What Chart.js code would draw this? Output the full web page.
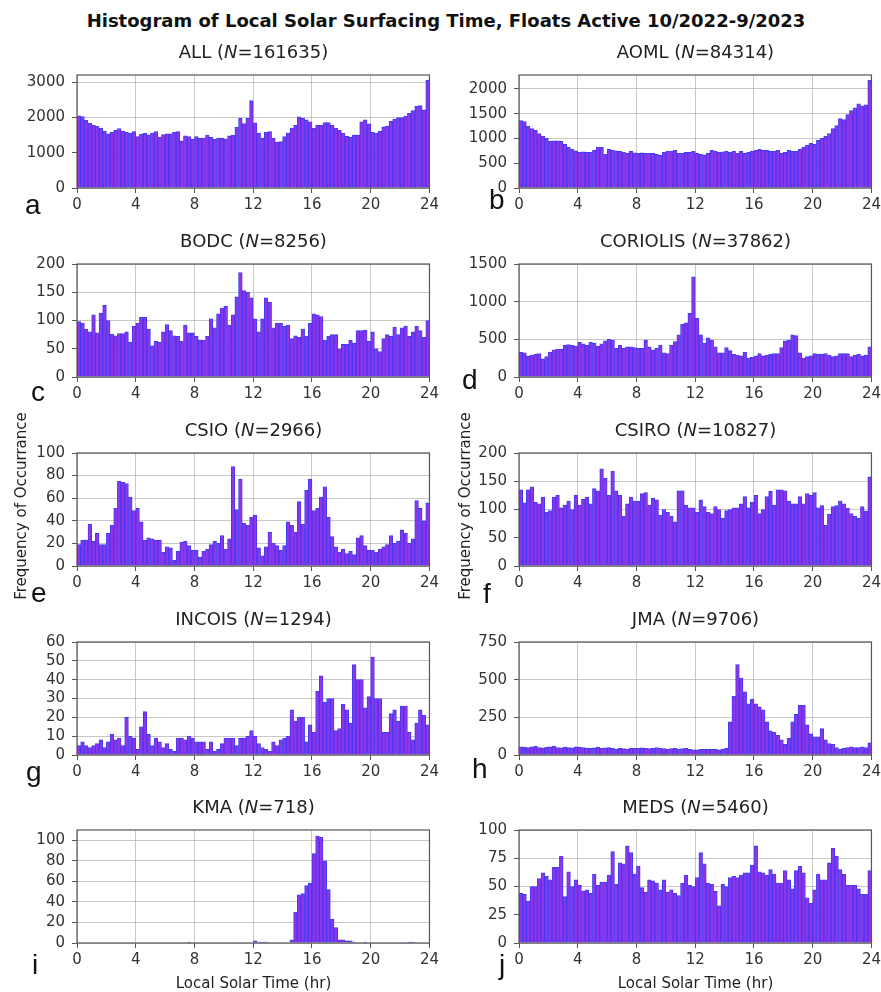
<!DOCTYPE html>
<html>
<head>
<meta charset="utf-8">
<title>Histogram of Local Solar Surfacing Time</title>
<script src="https://cdn.jsdelivr.net/npm/chart.js@4.4.1/dist/chart.umd.min.js"></script>
<style>
  html, body { margin: 0; padding: 0; background: #fff; }
  #page { position: relative; width: 881px; height: 992px; overflow: hidden; font-family: 'DejaVu Sans', sans-serif; color: #222; }
  .panel { position: absolute; }
  .txt { position: absolute; white-space: nowrap; line-height: 1; }
</style>
</head>
<body>
<div id="page"></div>
<script>
// 96 bins of 15 minutes over the local solar day
const BIN_WIDTH = 0.25;
const binCenters = Array.from({ length: 96 }, (_, i) => (i + 0.5) * BIN_WIDTH);
const xTicks = [0, 4, 8, 12, 16, 20, 24];

const allCounts = [
  2050, 2030, 1920, 1840, 1790, 1750, 1700, 1620,
  1540, 1580, 1640, 1690, 1620, 1580, 1560, 1600,
  1460, 1530, 1550, 1510, 1560, 1600, 1450, 1520,
  1540, 1540, 1580, 1600, 1340, 1480, 1460, 1380,
  1460, 1420, 1420, 1500, 1440, 1380, 1420, 1420,
  1400, 1480, 1500, 1720, 1980, 1830, 1980, 2480,
  1850, 1560, 1420, 1580, 1600, 1420, 1300, 1320,
  1460, 1560, 1700, 1780, 2020, 1980, 1940, 1880,
  1700, 1780, 1780, 1860, 1860, 1780, 1700, 1640,
  1560, 1470, 1440, 1500, 1500, 1880, 1940, 1820,
  1580, 1560, 1620, 1740, 1760, 1900, 1960, 2000,
  2000, 2040, 2120, 2200, 2320, 2340, 2220, 3060,
];
const aomlCounts = [
  1360, 1340, 1250, 1200, 1170, 1100, 1050, 1000,
  940, 950, 950, 940, 880, 820, 780, 750,
  720, 730, 720, 720, 760, 820, 820, 680,
  780, 760, 750, 740, 720, 700, 740, 710,
  700, 710, 700, 700, 700, 680, 660, 720,
  740, 740, 760, 700, 700, 720, 720, 740,
  700, 680, 670, 700, 760, 740, 720, 730,
  740, 720, 740, 700, 740, 700, 720, 740,
  760, 780, 760, 760, 740, 740, 760, 700,
  720, 760, 740, 740, 780, 820, 860, 900,
  880, 960, 1000, 1050, 1100, 1200, 1260, 1400,
  1380, 1480, 1560, 1620, 1700, 1660, 1680, 2170,
];
const bodcCounts = [
  98, 95, 85, 80, 110, 78, 113, 127,
  100, 76, 73, 77, 77, 80, 62, 90,
  95, 106, 106, 85, 55, 63, 62, 80,
  93, 82, 73, 72, 63, 92, 78, 78,
  72, 66, 65, 72, 103, 87, 112, 122,
  125, 92, 110, 142, 185, 153, 150, 140,
  103, 80, 103, 140, 132, 87, 95, 95,
  90, 92, 68, 73, 70, 85, 72, 95,
  112, 110, 107, 65, 72, 75, 75, 50,
  58, 58, 65, 60, 82, 82, 83, 63,
  80, 50, 45, 68, 75, 72, 88, 75,
  87, 90, 72, 80, 90, 82, 70, 100,
];
const coriolisCounts = [
  330, 320, 280, 290, 300, 310, 240, 270,
  330, 360, 370, 370, 420, 430, 420, 410,
  460, 440, 420, 460, 450, 410, 440, 480,
  500, 490, 380, 420, 380, 400, 400, 390,
  380, 380, 490, 400, 360, 380, 420, 320,
  310, 420, 470, 560, 700, 720, 850, 1330,
  780, 560, 450, 520, 490, 400, 320, 320,
  390, 350, 300, 290, 280, 330, 250, 260,
  280, 310, 280, 290, 300, 310, 310, 390,
  480, 490, 560, 550, 320, 250, 270, 280,
  310, 300, 300, 310, 290, 270, 280, 310,
  310, 310, 270, 290, 300, 280, 290, 400,
];
const csioCounts = [
  19, 23, 23, 37, 22, 29, 19, 19,
  29, 36, 51, 75, 74, 73, 61, 49,
  51, 39, 23, 25, 24, 23, 23, 12,
  17, 16, 5, 13, 21, 22, 18, 14,
  14, 8, 13, 15, 19, 22, 20, 27,
  15, 24, 88, 50, 77, 38, 36, 43,
  45, 16, 9, 17, 30, 20, 18, 14,
  18, 39, 36, 30, 57, 37, 67, 77,
  49, 51, 61, 70, 43, 26, 17, 12,
  15, 11, 13, 10, 25, 27, 18, 14,
  14, 12, 15, 17, 19, 27, 20, 22,
  32, 29, 20, 24, 58, 51, 40, 56,
];
const csiroCounts = [
  135, 112, 135, 140, 113, 110, 122, 95,
  98, 122, 125, 103, 108, 115, 100, 125,
  108, 118, 122, 110, 137, 133, 172, 155,
  125, 168, 133, 125, 88, 110, 122, 115,
  115, 128, 130, 108, 120, 117, 90, 100,
  95, 88, 78, 133, 133, 108, 103, 103,
  95, 117, 105, 95, 93, 105, 100, 85,
  98, 100, 103, 103, 110, 123, 103, 113,
  125, 93, 100, 123, 132, 108, 135, 135,
  133, 115, 110, 110, 123, 110, 128, 125,
  130, 103, 107, 72, 92, 105, 107, 115,
  110, 102, 93, 88, 85, 105, 97, 158,
];
const incoisCounts = [
  5, 7, 5, 4, 5, 6, 8, 4,
  7, 11, 8, 9, 5, 20, 10, 9,
  3, 15, 23, 11, 5, 9, 7, 4,
  6, 3, 2, 9, 9, 8, 10, 9,
  7, 7, 7, 3, 7, 2, 3, 6,
  9, 9, 9, 5, 9, 9, 10, 13,
  10, 6, 4, 3, 2, 7, 5, 8,
  9, 10, 24, 18, 20, 20, 7, 16,
  12, 34, 42, 28, 30, 30, 13, 14,
  27, 24, 17, 48, 40, 40, 25, 31,
  52, 30, 30, 12, 12, 22, 24, 18,
  26, 26, 12, 8, 17, 24, 21, 16,
];
const jmaCounts = [
  55, 52, 50, 55, 58, 50, 48, 52,
  55, 60, 50, 48, 52, 50, 48, 55,
  52, 50, 46, 45, 48, 52, 45, 48,
  50, 45, 40, 45, 42, 40, 46, 44,
  45, 48, 45, 42, 44, 50, 45, 42,
  40, 42, 45, 40, 42, 45, 38, 35,
  35, 38, 40, 38, 38, 40, 35, 40,
  45, 220, 390, 600, 510, 420, 340, 370,
  340, 320, 300, 220, 160, 150, 130, 100,
  70, 110, 220, 270, 330, 330, 200, 140,
  120, 120, 175, 100, 75, 70, 50, 40,
  45, 50, 55, 50, 50, 55, 50, 80,
];
const kmaCounts = [
  0, 0, 0, 0, 0, 0, 0, 0,
  0, 0, 0, 0, 0, 0, 0, 0,
  0, 0, 0, 0, 0, 0, 0, 0,
  0, 0, 0, 0, 0, 0, 1, 0,
  0, 0, 0, 0, 0, 0, 0, 0,
  0, 0, 0, 0, 0, 0, 0, 0,
  2, 1, 1, 1, 0, 0, 0, 0,
  0, 0, 3, 30, 47, 48, 56, 58,
  87, 104, 103, 80, 52, 23, 15, 3,
  3, 2, 2, 1, 0, 0, 1, 0,
  0, 0, 0, 0, 0, 0, 0, 0,
  0, 0, 1, 1, 0, 0, 0, 0,
];
const medsCounts = [
  44, 43, 37, 50, 50, 57, 62, 59,
  56, 67, 67, 77, 41, 63, 50, 56,
  51, 46, 47, 44, 61, 51, 54, 54,
  60, 81, 52, 71, 70, 86, 80, 61,
  68, 49, 45, 56, 55, 53, 47, 56,
  45, 47, 44, 42, 53, 60, 51, 50,
  58, 80, 70, 53, 52, 46, 33, 52,
  50, 58, 59, 58, 60, 62, 62, 69,
  86, 63, 62, 60, 65, 61, 53, 53,
  64, 56, 48, 64, 68, 62, 40, 35,
  47, 61, 56, 56, 71, 84, 77, 65,
  61, 51, 51, 51, 48, 43, 43, 64,
];

const panelNames = ['ALL', 'AOML', 'BODC', 'CORIOLIS', 'CSIO', 'CSIRO', 'INCOIS', 'JMA', 'KMA', 'MEDS'];
const panelN = [161635, 84314, 8256, 37862, 2966, 10827, 1294, 9706, 718, 5460];
const panelLetters = ['a', 'b', 'c', 'd', 'e', 'f', 'g', 'h', 'i', 'j'];
const panelCounts = [allCounts, aomlCounts, bodcCounts, coriolisCounts, csioCounts,
  csiroCounts, incoisCounts, jmaCounts, kmaCounts, medsCounts];
const panelYMax = [3210, 2280, 200, 1500, 100, 200, 60, 750, 110, 100];
const panelYTicks = [
  [0, 1000, 2000, 3000],
  [0, 500, 1000, 1500, 2000],
  [0, 50, 100, 150, 200],
  [0, 500, 1000, 1500],
  [0, 20, 40, 60, 80, 100],
  [0, 50, 100, 150, 200],
  [0, 10, 20, 30, 40, 50, 60],
  [0, 250, 500, 750],
  [0, 20, 40, 60, 80, 100],
  [0, 25, 50, 75, 100],
];

// ---- layout (pixels) ----
const COL_LEFT = [77, 519];
const ROW_TOP = [69, 258, 447, 636, 824];
const AX_W = 353;
const AX_H = 119;
const Y_W = 60;      // room for y tick labels
const X_H = 26;      // room for x tick labels
const PAD_T = 10;
const PAD_R = 12;
// subplot letters: [left, baseline]
const LETTER_POS = [
  [25, 215], [489, 210], [31, 402], [462, 390], [31, 603],
  [483, 604], [26, 782], [472, 779], [32, 975], [499, 975],
];

const BAR_FILL = '#9233e8';
const BAR_EDGE = '#3d3cf6';
const GRID = 'rgba(170, 170, 170, 0.65)';
const FRAME = '#555';
const TICK_TEXT = '#333';
const FONT = "'DejaVu Sans', sans-serif";

const page = document.getElementById('page');

function addText(html, x, baseline, size, opts = {}) {
  const el = document.createElement('div');
  el.className = 'txt';
  el.innerHTML = html;
  el.style.fontSize = size + 'px';
  el.style.top = (baseline - 0.846 * size) + 'px';
  el.style.left = x + 'px';
  if (opts.center) el.style.transform = 'translateX(-50%)';
  if (opts.weight) el.style.fontWeight = opts.weight;
  if (opts.family) el.style.fontFamily = opts.family;
  if (opts.color) el.style.color = opts.color;
  page.appendChild(el);
  return el;
}

function addRotated(text, cx, cy, size) {
  const el = document.createElement('div');
  el.className = 'txt';
  el.textContent = text;
  el.style.fontSize = size + 'px';
  el.style.left = cx + 'px';
  el.style.top = cy + 'px';
  el.style.transform = 'translate(-50%, -50%) rotate(-90deg)';
  page.appendChild(el);
}

const framePlugin = {
  id: 'frame',
  afterDraw(chart) {
    const { ctx, chartArea: a } = chart;
    ctx.save();
    ctx.strokeStyle = FRAME;
    ctx.lineWidth = 1.2;
    ctx.strokeRect(a.left, a.top, a.right - a.left, a.bottom - a.top);
    ctx.restore();
  },
};

addText('Histogram of Local Solar Surfacing Time, Floats Active 10/2022-9/2023', 446, 27, 18, { center: true, weight: 'bold', color: '#111' });

panelNames.forEach((name, i) => {
  const col = i % 2;
  const row = Math.floor(i / 2);
  const axLeft = COL_LEFT[col];
  const axTop = ROW_TOP[row];

  const box = document.createElement('div');
  box.className = 'panel';
  const w = AX_W + Y_W + PAD_R;
  const h = AX_H + PAD_T + X_H;
  box.style.left = (axLeft - Y_W) + 'px';
  box.style.top = (axTop - PAD_T) + 'px';
  box.style.width = w + 'px';
  box.style.height = h + 'px';
  const canvas = document.createElement('canvas');
  canvas.width = w;
  canvas.height = h;
  box.appendChild(canvas);
  page.appendChild(box);

  const yTicks = panelYTicks[i];

  new Chart(canvas, {
    type: 'bar',
    data: {
      labels: binCenters,
      datasets: [
        {
          data: panelCounts[i],
          backgroundColor: BAR_FILL,
          borderColor: BAR_EDGE,
          borderWidth: 1,
          barPercentage: 1,
          categoryPercentage: 1,
        },
      ],
    },
    options: {
      responsive: false,
      maintainAspectRatio: false,
      animation: false,
      layout: { padding: { top: PAD_T, right: PAD_R, left: 0, bottom: 0 } },
      plugins: { legend: { display: false }, tooltip: { enabled: false } },
      scales: {
        x: {
          type: 'linear',
          min: 0,
          max: 24,
          offset: false,
          z: 1,
          afterBuildTicks: (scale) => { scale.ticks = xTicks.map((v) => ({ value: v })); },
          afterFit: (scale) => { scale.height = X_H; },
          grid: { offset: false, color: GRID, lineWidth: 1, drawTicks: true, tickLength: 5, tickColor: FRAME },
          border: { display: false },
          ticks: {
            autoSkip: false,
            maxRotation: 0,
            padding: 3,
            color: TICK_TEXT,
            font: { family: FONT, size: 15 },
            callback: (v) => String(v),
          },
        },
        y: {
          min: 0,
          max: panelYMax[i],
          z: 1,
          afterBuildTicks: (scale) => { scale.ticks = yTicks.map((v) => ({ value: v })); },
          afterFit: (scale) => { scale.width = Y_W; },
          grid: { color: GRID, lineWidth: 1, drawTicks: true, tickLength: 5, tickColor: FRAME },
          border: { display: false },
          ticks: {
            autoSkip: false,
            padding: 7,
            color: TICK_TEXT,
            font: { family: FONT, size: 15 },
            callback: (v) => String(v),
          },
        },
      },
    },
    plugins: [framePlugin],
  });

  addText(`${name} (<i>N</i>=${panelN[i]})`, axLeft + AX_W / 2, axTop - 11, 18, { center: true });
  addText(panelLetters[i], LETTER_POS[i][0], LETTER_POS[i][1], 28, { family: "'Liberation Sans', sans-serif", color: '#111' });
});

addRotated('Frequency of Occurrance', 21, 506, 15);
addRotated('Frequency of Occurrance', 465, 506, 15);
addText('Local Solar Time (hr)', COL_LEFT[0] + AX_W / 2, 989, 15, { center: true });
addText('Local Solar Time (hr)', COL_LEFT[1] + AX_W / 2, 989, 15, { center: true });
</script>
</body>
</html>
